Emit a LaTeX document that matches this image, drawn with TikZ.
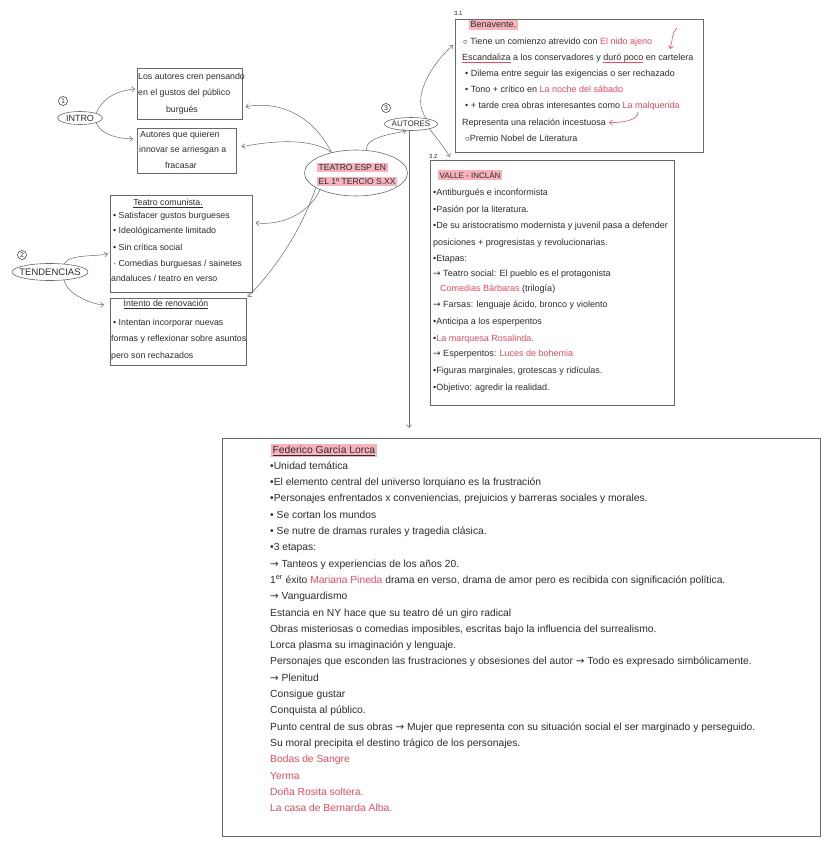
\documentclass[tikz,border=0pt]{standalone}
\usepackage{fontspec}
\setmainfont{Liberation Sans}
\newfontfamily\arrfont{DejaVu Sans}
\usetikzlibrary{arrows.meta,shapes.geometric,calc}
\definecolor{ink}{RGB}{45,45,45}
\definecolor{redink}{RGB}{235,75,95}
\definecolor{hl}{RGB}{247,178,188}
\definecolor{framec}{RGB}{105,105,105}
\newsavebox\ulbox
\newcommand\redul[1]{\sbox\ulbox{#1}\rlap{\textcolor{redink}{\rule[-2pt]{\wd\ulbox}{0.6pt}}}\usebox\ulbox}
\newcommand\inkul[1]{\sbox\ulbox{#1}\rlap{\textcolor{ink}{\rule[-2pt]{\wd\ulbox}{0.5pt}}}\usebox\ulbox}
\newcommand\rt[1]{\textcolor{redink}{#1}}
\newcommand\arr{{\arrfont →}}
\tikzset{
  boxframe/.style={draw=framec, line width=0.6pt, rectangle, inner sep=0pt, anchor=north west},
  oval/.style={draw=framec, line width=0.6pt, ellipse, inner sep=0pt},
  conn/.style={draw=framec, line width=0.5pt, -{Straight Barb[length=3pt,width=5pt]}},
  redconn/.style={draw=redink, line width=0.6pt, -{Straight Barb[length=3pt,width=5pt]}},
  txt/.style={anchor=base west, inner sep=0pt, text=ink, font=\fontsize{9}{11}\selectfont},
  stxt/.style={txt, font=\fontsize{8.8}{10}\selectfont},
  ltxt/.style={txt, font=\fontsize{10.3}{12}\selectfont},
  hlbox/.style={fill=hl, inner xsep=1.5pt, inner ysep=1.5pt},
  lab/.style={font=\fontsize{9}{10}\selectfont, text=ink, inner sep=0pt},
  num/.style={circle, draw=ink, line width=0.5pt, inner sep=0.8pt, minimum size=9pt, font=\fontsize{7}{7}\selectfont, text=ink},
  secl/.style={anchor=base west, inner sep=0pt, text=ink, font=\fontsize{6}{6}\selectfont}
}
\begin{document}
\begin{tikzpicture}[x=1pt,y=-1pt]
\fill[white] (0,0) rectangle (833,848);
\useasboundingbox (0,0) rectangle (833,848);

% ---------- INTRO ----------
\node[oval, minimum width=45pt, minimum height=13pt, label={[lab]center:INTRO}] (intro) at (80,118) {};
\node[num] (c1) at (63,101) {1};
\node[boxframe, minimum width=105pt, minimum height=51pt] (box1) at (137,68) {};
\node[stxt] (a1) at (138,80) {Los autores cren pensando};
\node[stxt] (a2) at (138,96) {en el gustos del público};
\node[stxt, anchor=base] (a3) at (182,113) {burgués};
\node[boxframe, minimum width=99pt, minimum height=45pt] (box2) at (137,128) {};
\node[stxt] (a4) at (140,138) {Autores que quieren};
\node[stxt] (a5) at (139,153) {innovar se arriesgan a};
\node[stxt, anchor=base] (a6) at (181,168) {fracasar};

% ---------- TENDENCIAS ----------
\node[oval, minimum width=76pt, minimum height=17pt, label={[lab, font=\fontsize{9.5}{10}\selectfont]center:TENDENCIAS}] (tend) at (50,272) {};
\node[num] (c2) at (22,255) {2};
\node[boxframe, minimum width=142pt, minimum height=97pt] (comun) at (110,195) {};
\node[stxt, anchor=base] (k0) at (168,205) {\inkul{Teatro comunista.}};
\node[stxt] (k1) at (113,218) {• Satisfacer gustos burgueses};
\node[stxt] (k2) at (113,233) {• Ideológicamente limitado};
\node[stxt] (k3) at (113,250) {• Sin crítica social};
\node[stxt] (k4) at (113,266) {· Comedias burguesas / sainetes};
\node[stxt] (k5) at (111,281) {andaluces / teatro en verso};
\node[boxframe, minimum width=136pt, minimum height=67pt] (reno) at (110,298) {};
\node[stxt, anchor=base] (r0) at (166,306) {\inkul{Intento de renovación}};
\node[stxt] (r1) at (113,325) {• Intentan incorporar nuevas};
\node[stxt] (r2) at (111,341) {formas y reflexionar sobre asuntos};
\node[stxt] (r3) at (111,358) {pero son rechazados};

% ---------- TEATRO ----------
\node[oval, minimum width=103pt, minimum height=46pt] (teatro) at (356,173) {};
\node[txt, hlbox, font=\fontsize{8.5}{10}\selectfont] (t1) at (317,170) {TEATRO ESP EN};
\node[txt, hlbox, font=\fontsize{8.5}{10}\selectfont] (t2) at (317,184) {EL 1º TERCIO S.XX};

% ---------- AUTORES ----------
\node[oval, minimum width=53pt, minimum height=13pt, label={[lab, font=\fontsize{8}{9}\selectfont]center:AUTORES}] (autores) at (411,124) {};
\node[num] (c3) at (386,108) {3};

% ---------- Benavente ----------
\node[secl] (s31) at (454,16) {3.1};
\node[boxframe, minimum width=248pt, minimum height=133pt] (bena) at (455,19) {};
\node[txt, hlbox] (b0) at (469,28) {Benavente.};
\node[txt] (b1) at (463,45) {$\circ$ Tiene un comienzo atrevido con \rt{El nido ajeno}};
\node[txt] (b2) at (462,61) {\redul{Escandaliza} a los conservadores y \redul{duró poco} en cartelera};
\node[txt] (b3) at (465,77) {• Dilema entre seguir las exigencias o ser rechazado};
\node[txt] (b4) at (465,93) {• Tono + crítico en \rt{La noche del sábado}};
\node[txt] (b5) at (465,109) {• + tarde crea obras interesantes como \rt{La malquerida}};
\node[txt] (b6) at (462,125) {Representa una relación incestuosa};
\node[txt] (b7) at (465,141) {$\circ$Premio Nobel de Literatura};
\coordinate (rA) at (677,28);
\coordinate (rB) at (670,49);
\coordinate (rC) at (638,112);
\draw[redconn] (rA) .. controls +(-6,6) and +(3,-9) .. (rB);
\draw[redconn] (rC) .. controls +(0,9) and +(12,0) .. ($(b6.east)+(3,0)$);

% ---------- Valle-Inclan ----------
\node[secl] (s32) at (429,158) {3.2};
\node[boxframe, minimum width=244pt, minimum height=245pt] (valle) at (430,160) {};
\node[txt, hlbox, font=\fontsize{8}{9}\selectfont] (v0) at (438,178) {VALLE - INCLÁN};
\node[txt] (v1) at (433,195) {•Antiburgués e inconformista};
\node[txt] (v2) at (433,212) {•Pasión por la literatura.};
\node[txt] (v3) at (433,228) {•De su aristocratismo modernista y juvenil pasa a defender};
\node[txt] (v4) at (433,245) {posiciones + progresistas y revolucionarias.};
\node[txt] (v5) at (433,261) {•Etapas:};
\node[txt] (v6) at (433,276) {\arr{} Teatro social: El pueblo es el protagonista};
\node[txt] (v7) at (440,291) {\rt{Comedias Bárbaras} (trilogía)};
\node[txt] (v8) at (433,307) {\arr{} Farsas: lenguaje ácido, bronco y violento};
\node[txt] (v9) at (433,324) {•Anticipa a los esperpentos};
\node[txt] (v10) at (433,341) {•\rt{La marquesa Rosalinda.}};
\node[txt] (v11) at (433,356) {\arr{} Esperpentos: \rt{Luces de bohemia}};
\node[txt] (v12) at (433,373) {•Figuras marginales, grotescas y ridículas.};
\node[txt] (v13) at (433,390) {•Objetivo: agredir la realidad.};

% ---------- Lorca ----------
\node[boxframe, minimum width=598pt, minimum height=398pt] (lorca) at (222,438) {};
\node[ltxt, hlbox] (L0) at (271,453) {\inkul{Federico García Lorca}};
\node[ltxt] (L1) at (270,469.3) {•Unidad temática};
\node[ltxt] (L2) at (270,485.6) {•El elemento central del universo lorquiano es la frustración};
\node[ltxt] (L3) at (270,501.9) {•Personajes enfrentados x conveniencias, prejuicios y barreras sociales y morales.};
\node[ltxt] (L4) at (270,518.2) {• Se cortan los mundos};
\node[ltxt] (L5) at (270,534.5) {• Se nutre de dramas rurales y tragedia clásica.};
\node[ltxt] (L6) at (270,550.8) {•3 etapas:};
\node[ltxt] (L7) at (270,567.1) {\arr{} Tanteos y experiencias de los años 20.};
\node[ltxt] (L8) at (270,583.4) {1\textsuperscript{er} éxito \rt{Mariana Pineda} drama en verso, drama de amor pero es recibida con significación política.};
\node[ltxt] (L9) at (270,599.7) {\arr{} Vanguardismo};
\node[ltxt] (L10) at (270,616) {Estancia en NY hace que su teatro dé un giro radical};
\node[ltxt] (L11) at (270,632.3) {Obras misteriosas o comedias imposibles, escritas bajo la influencia del surrealismo.};
\node[ltxt] (L12) at (270,648.6) {Lorca plasma su imaginación y lenguaje.};
\node[ltxt] (L13) at (270,664.9) {Personajes que esconden las frustraciones y obsesiones del autor \arr{} Todo es expresado simbólicamente.};
\node[ltxt] (L14) at (270,681.2) {\arr{} Plenitud};
\node[ltxt] (L15) at (270,697.5) {Consigue gustar};
\node[ltxt] (L16) at (270,713.8) {Conquista al público.};
\node[ltxt] (L17) at (270,730.1) {Punto central de sus obras \arr{} Mujer que representa con su situación social el ser marginado y perseguido.};
\node[ltxt] (L18) at (270,746.4) {Su moral precipita el destino trágico de los personajes.};
\node[ltxt, text=redink] (L19) at (270,762.7) {Bodas de Sangre};
\node[ltxt, text=redink] (L20) at (270,779) {Yerma};
\node[ltxt, text=redink] (L21) at (270,795.3) {Doña Rosita soltera.};
\node[ltxt, text=redink] (L22) at (270,811.6) {La casa de Bernarda Alba.};

% ---------- connectors ----------
\draw[conn] (intro.north east) .. controls +(8,-18) and +(-15,2) .. ($(box1.west)+(-2,-5)$);
\draw[conn] (intro.south east) .. controls +(5,12) and +(-15,0) .. ($(box2.west)+(-4,-12)$);
\draw[conn] (teatro.140) .. controls +(-20,-40) and +(30,-6) .. ($(box1.east)+(3,13)$);
\draw[conn] (teatro.140) .. controls +(-20,-15) and +(30,-6) .. ($(box2.east)+(5,-4)$);
\draw[conn] (teatro.205) .. controls +(-12,25) and +(25,3) .. ($(comun.east)+(3,-21)$);
\draw[conn] (teatro.200) .. controls +(-15,45) and +(25,-25) .. ($(reno.north east)+(1,-1)$);
\draw[conn] (teatro.65) .. controls +(-2,-14) and +(-10,3) .. (autores.235);
\draw[conn] (autores.20) .. controls +(-16,-20) and +(-22,20) .. ($(bena.north west)+(-2,26)$);
\draw[conn] (autores.-15) .. controls +(8,10) and +(-6,-10) .. ($(valle.north west)+(20,-3)$);
\draw[conn] ($(autores.south)+(-2,0)$) -- ($(autores.south |- lorca.north)+(-2,-10)$);
\draw[conn] (tend.30) .. controls +(5,-10) and +(-12,3) .. ($(comun.west)+(-2,10)$);
\draw[conn] (tend.-30) .. controls +(3,15) and +(-10,0) .. ($(reno.west)+(-6,-27)$);
\end{tikzpicture}
\end{document}
